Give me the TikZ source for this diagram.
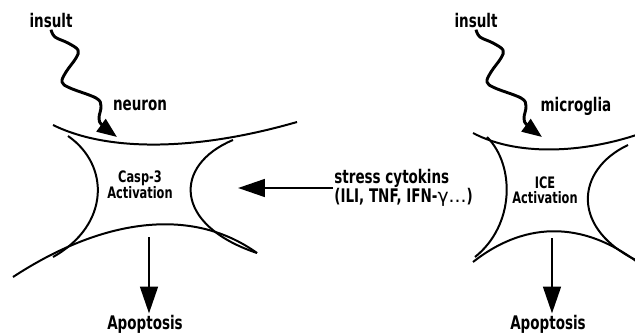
\documentclass[tikz,border=0pt]{standalone}
\usepackage{fontspec}
\setmainfont{DejaVu Sans}
\newfontfamily\heavyfont{DejaVu Sans}[UprightFont={* Bold}, FakeStretch=0.72]
\usetikzlibrary{positioning,arrows.meta,calc}

\begin{document}
\begin{tikzpicture}[x=0.03cm, y=-0.03cm,
    lbl/.style={font=\heavyfont\fontsize{16}{13}\selectfont, inner sep=1pt},
    celltxt/.style={align=center, font=\heavyfont\fontsize{13.5}{13}\selectfont},
    cell/.style={line width=1.7pt},
    bigarrow/.style={line width=2.5pt, -{Triangle[length=23pt,width=15pt]}},
    wavy/.style={line width=2.5pt, line join=round, -{Triangle[length=17pt,width=13pt]}}]
    \useasboundingbox (0,0) rectangle (635,333);

    % neuron side
    \node[lbl] (insultL) at (51,21) {insult};
    \node[lbl] (neuron) at (140,105) {neuron};
    \node[celltxt] (casp) at (140,185) {Casp-3\\Activation};
    \node[lbl] (apoL) at (145,324) {Apoptosis};
    \coordinate (hitL) at (117,137);
    \coordinate (caspR) at (238,188);
    \coordinate (caspB) at (149,237);
    \draw[cell] (53,125) .. controls (110,153) and (200,150) .. (297,122);
    \draw[cell] (68,136) .. controls (110,165) and (110,225) .. (53,257);
    \draw[cell] (13,277) .. controls (100,220) and (190,205) .. (257,253);
    \draw[cell] (233,140) .. controls (173,165) and (173,225) .. (257,253);
    \draw[wavy] plot[smooth, tension=0.6] coordinates {(insultL.south) (55,37) (68,43) (78,50) (76,58) (66,72) (62,82) (70,88) (96,98) (101,106) (99,118) (102,125) (hitL)};
    \draw[bigarrow] (caspB) -- (caspB |- apoL.north);

    % cytokines
    \node[lbl, anchor=west, align=left] (stress) at (333,188) {stress cytokins\\(ILI, TNF, IFN-{\rmfamily γ...})};
    \draw[bigarrow] (stress.west) -- (caspR);

    % microglia side
    \node[lbl] (insultR) at (476,21) {insult};
    \node[lbl] (microglia) at (576,106) {microglia};
    \node[celltxt] (ice) at (545,190) {ICE\\Activation};
    \node[lbl] (apoR) at (548,324) {Apoptosis};
    \coordinate (hitR) at (542,137);
    \coordinate (iceB) at (552,238);
    \draw[cell] (473,133) .. controls (520,158) and (590,152) .. (645,132);
    \draw[cell] (487,137) .. controls (515,165) and (515,225) .. (475,257);
    \draw[cell] (473,262) .. controls (520,225) and (580,215) .. (645,268);
    \draw[cell] (628,145) .. controls (575,170) and (570,230) .. (640,262);
    \draw[wavy] plot[smooth, tension=0.6] coordinates {(insultR.south) (480,37) (493,43) (503,50) (501,58) (491,72) (487,82) (495,88) (521,98) (526,106) (524,118) (527,125) (hitR)};
    \draw[bigarrow] (iceB) -- (iceB |- apoR.north);
\end{tikzpicture}
\end{document}
